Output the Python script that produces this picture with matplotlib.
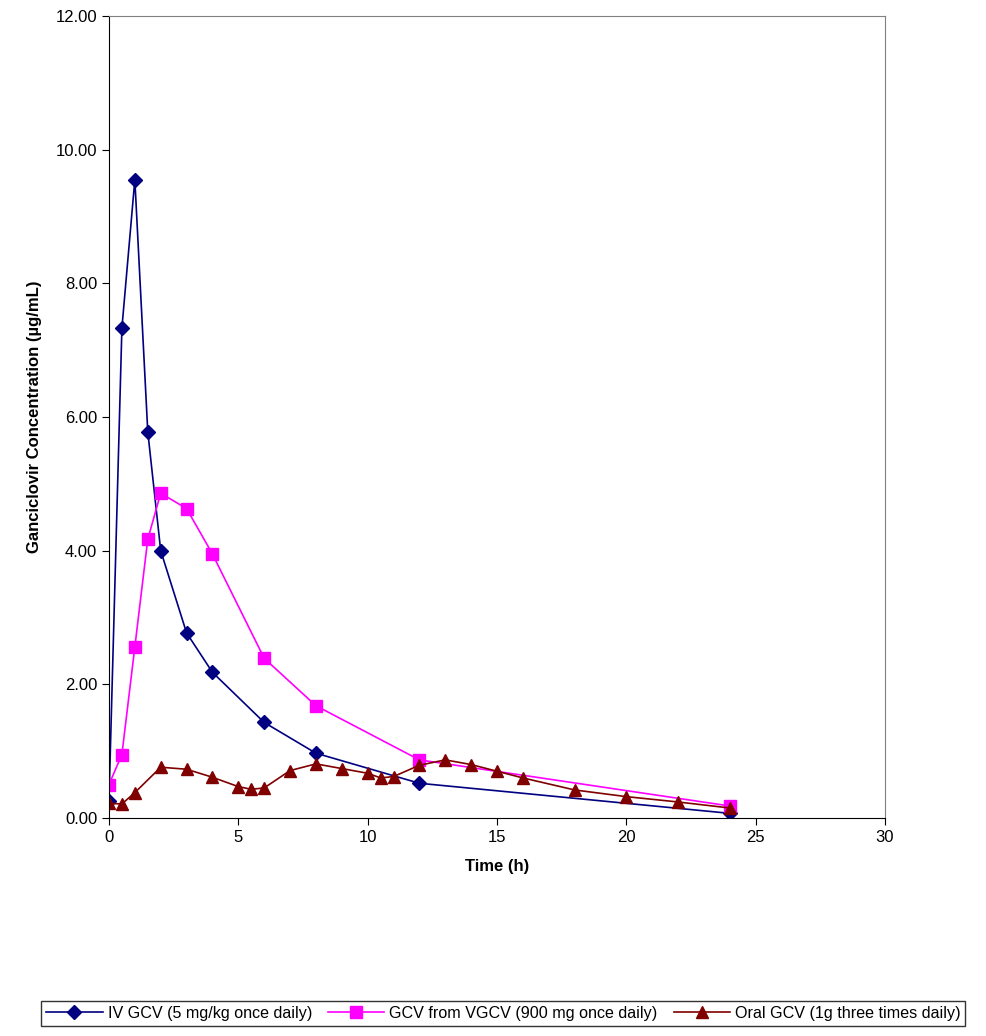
import matplotlib
matplotlib.use("Agg")
import matplotlib.pyplot as plt

plt.rcParams["font.family"] = ["Liberation Sans", "DejaVu Sans"]

iv_t = [0, 0.5, 1, 1.5, 2, 3, 4, 6, 8, 12, 24]
iv_c = [0.25, 7.33, 9.55, 5.78, 4.0, 2.77, 2.18, 1.43, 0.97, 0.52, 0.07]
vg_t = [0, 0.5, 1, 1.5, 2, 3, 4, 6, 8, 12, 24]
vg_c = [0.50, 0.95, 2.56, 4.17, 4.86, 4.63, 3.95, 2.39, 1.68, 0.87, 0.18]
or_t = [0, 0.5, 1, 2, 3, 4, 5, 5.5, 6, 7, 8, 9, 10, 10.5, 11, 12, 13, 14, 15, 16, 18, 20, 22, 24]
or_c = [0.22, 0.21, 0.38, 0.76, 0.73, 0.61, 0.47, 0.43, 0.45, 0.71, 0.81, 0.74, 0.67,
        0.60, 0.62, 0.79, 0.87, 0.80, 0.70, 0.60, 0.42, 0.32, 0.24, 0.15]

fig = plt.figure(figsize=(9.87, 10.36), dpi=100)
ax = fig.add_axes([0.1104, 0.2104, 0.7863, 0.7742])
ax.plot(iv_t, iv_c, color="#000080", marker="D", markersize=7, lw=1.2,
        label="IV GCV (5 mg/kg once daily)")
ax.plot(vg_t, vg_c, color="#FF00FF", marker="s", markersize=8, lw=1.2,
        label="GCV from VGCV (900 mg once daily)")
ax.plot(or_t, or_c, color="#800000", marker="^", markersize=9, lw=1.2,
        label="Oral GCV (1g three times daily)")

ax.set_xlim(0, 30)
ax.set_ylim(0, 12)
ax.set_xticks(range(0, 31, 5))
ax.set_yticks(range(0, 13, 2))
ax.set_yticklabels([f"{v:.2f}" for v in range(0, 13, 2)])
ax.tick_params(labelsize=12, direction="out", length=5)
ax.set_xlabel("Time (h)", fontsize=12, fontweight="bold", labelpad=10)
ax.set_ylabel("Ganciclovir Concentration (µg/mL)", fontsize=12, fontweight="bold", labelpad=10)
for side in ("top", "right"):
    ax.spines[side].set_color("#808080")

leg = fig.legend(loc="lower center", bbox_to_anchor=(0.51, 0.002), ncol=3, fontsize=11.6,
                 frameon=True, fancybox=False, edgecolor="black", handlelength=3.5,
                 columnspacing=1.0, handletextpad=0.3, borderpad=0.3)
leg.get_frame().set_linewidth(1)

fig.savefig("out.png", dpi=100)
